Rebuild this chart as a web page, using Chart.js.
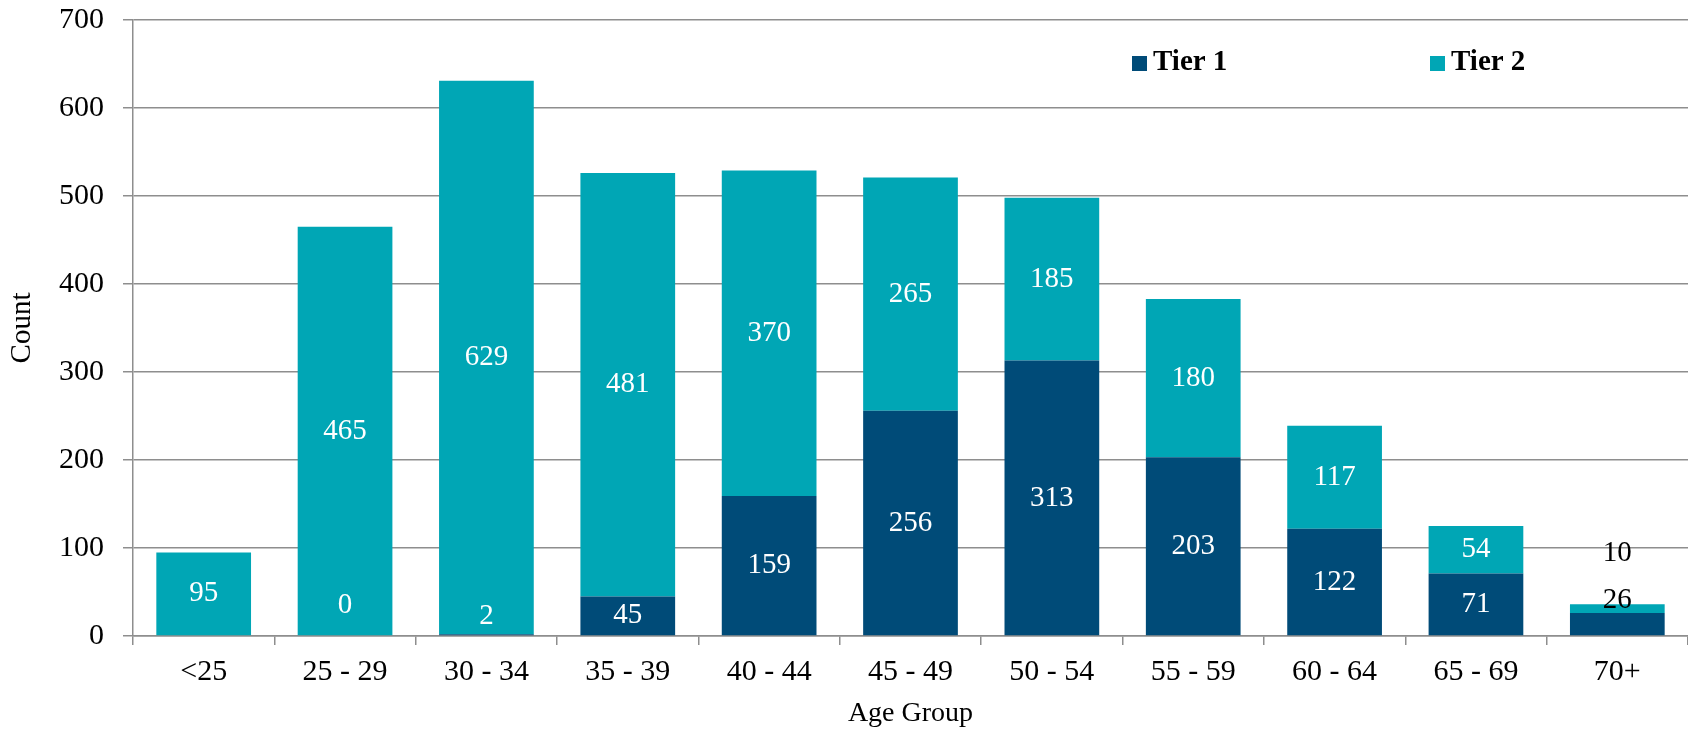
<!DOCTYPE html>
<html>
<head>
<meta charset="utf-8">
<script src="https://cdn.jsdelivr.net/npm/chart.js@4.4.0/dist/chart.umd.min.js"></script>
<style>
  html, body { margin: 0; padding: 0; background: #fff; }
  #wrap { width: 1688px; height: 733px; }
</style>
</head>
<body>
<div id="wrap"><canvas id="ageChart" width="1688" height="733"></canvas></div>
<script>
/* ── Age group chart: Tier 1 / Tier 2 stacked counts ── */

const ageGroups = ['<25', '25 - 29', '30 - 34', '35 - 39', '40 - 44', '45 - 49', '50 - 54', '55 - 59', '60 - 64', '65 - 69', '70+'];
const tier1 = [null, 0, 2, 45, 159, 256, 313, 203, 122, 71, 26];
const tier2 = [95, 465, 629, 481, 370, 265, 185, 180, 117, 54, 10];
const countTicks = [0, 100, 200, 300, 400, 500, 600, 700];

const GRID = '#8e8e8e';
const SERIF = '"Liberation Serif", "Times New Roman", serif';

/* ===================== DATA LABELS ===================== */
const stackLabels = {
    id: 'stackLabels',
    afterDatasetsDraw(chart) {
        const ctx = chart.ctx;
        const sets = chart.data.datasets;
        ctx.save();
        ctx.font = '29px ' + SERIF;
        ctx.textAlign = 'center';
        ctx.textBaseline = 'middle';
        chart.data.labels.forEach((_, j) => {
            const bars = [];
            sets.forEach((ds, i) => {
                const v = ds.data[j];
                if (v === null || v === undefined) return;
                const el = chart.getDatasetMeta(i).data[j];
                bars.push({ v, el });
            });
            if (!bars.length) return;
            const base = bars[0].el.base;
            const top = bars[bars.length - 1].el.y;
            if (base - top < 36) {
                // too small: stack labels above the bar
                ctx.fillStyle = '#000';
                bars.forEach((b, k) => ctx.fillText(String(b.v), b.el.x, top - 4 - k * 47));
                return;
            }
            ctx.fillStyle = '#fff';
            bars.forEach((b, k) => {
                let y = (b.el.y + b.el.base) / 2;
                if (k === 0) y = Math.min(y, base - (b.v === 0 ? 31 : 19));
                ctx.fillText(String(b.v), b.el.x, y);
            });
        });
        ctx.restore();
    }
};

/* ===================== LEGEND ===================== */
const innerLegend = {
    id: 'innerLegend',
    afterDraw(chart) {
        const ctx = chart.ctx;
        const xs = [1132, 1430];
        ctx.save();
        ctx.font = 'bold 29px ' + SERIF;
        ctx.textBaseline = 'middle';
        ctx.textAlign = 'left';
        chart.data.datasets.forEach((ds, i) => {
            ctx.fillStyle = ds.backgroundColor;
            ctx.fillRect(xs[i], 56, 15, 15);
            ctx.fillStyle = '#000';
            ctx.fillText(ds.label, xs[i] + 21, 63);
        });
        ctx.restore();
    }
};

const ctx = document.getElementById('ageChart').getContext('2d');
new Chart(ctx, {
    type: 'bar',
    data: {
        labels: ageGroups,
        datasets: [
            { label: 'Tier 1', data: tier1, backgroundColor: '#004b78', borderWidth: 0,
              categoryPercentage: 1, barPercentage: 0.67 },
            { label: 'Tier 2', data: tier2, backgroundColor: '#00a6b5', borderWidth: 0,
              categoryPercentage: 1, barPercentage: 0.67 }
        ]
    },
    options: {
        responsive: false,
        animation: false,
        layout: { padding: { top: 20, right: 0, left: 0, bottom: 0 } },
        plugins: {
            legend: { display: false },
            tooltip: { enabled: false }
        },
        scales: {
            x: {
                stacked: true,
                afterFit(s) { s.height = 97; s.paddingLeft = 0; s.paddingRight = 0; },
                grid: { drawOnChartArea: false, drawTicks: true, tickLength: 9, color: GRID, lineWidth: 1.5 },
                border: { display: true, color: GRID, width: 1.5 },
                ticks: { color: '#000', font: { family: SERIF, size: 30 }, padding: 9, maxRotation: 0, autoSkip: false },
                title: { display: true, text: 'Age Group', color: '#000',
                         font: { family: SERIF, size: 28 }, padding: { top: 0, bottom: 3 } }
            },
            y: {
                stacked: true,
                min: 0,
                max: 700,
                afterFit(s) { s.width = 133; s.paddingTop = 0; s.paddingBottom = 0; },
                afterBuildTicks(s) { s.ticks = countTicks.map(v => ({ value: v })); },
                grid: { color: GRID, lineWidth: 1.5, tickLength: 10 },
                border: { display: true, color: GRID, width: 1.5 },
                ticks: { color: '#000', font: { family: SERIF, size: 30 }, padding: 19 },
                title: { display: true, text: 'Count', color: '#000',
                         font: { family: SERIF, size: 29 }, padding: { top: 5, bottom: 0 } }
            }
        }
    },
    plugins: [stackLabels, innerLegend]
});
</script>
</body>
</html>
